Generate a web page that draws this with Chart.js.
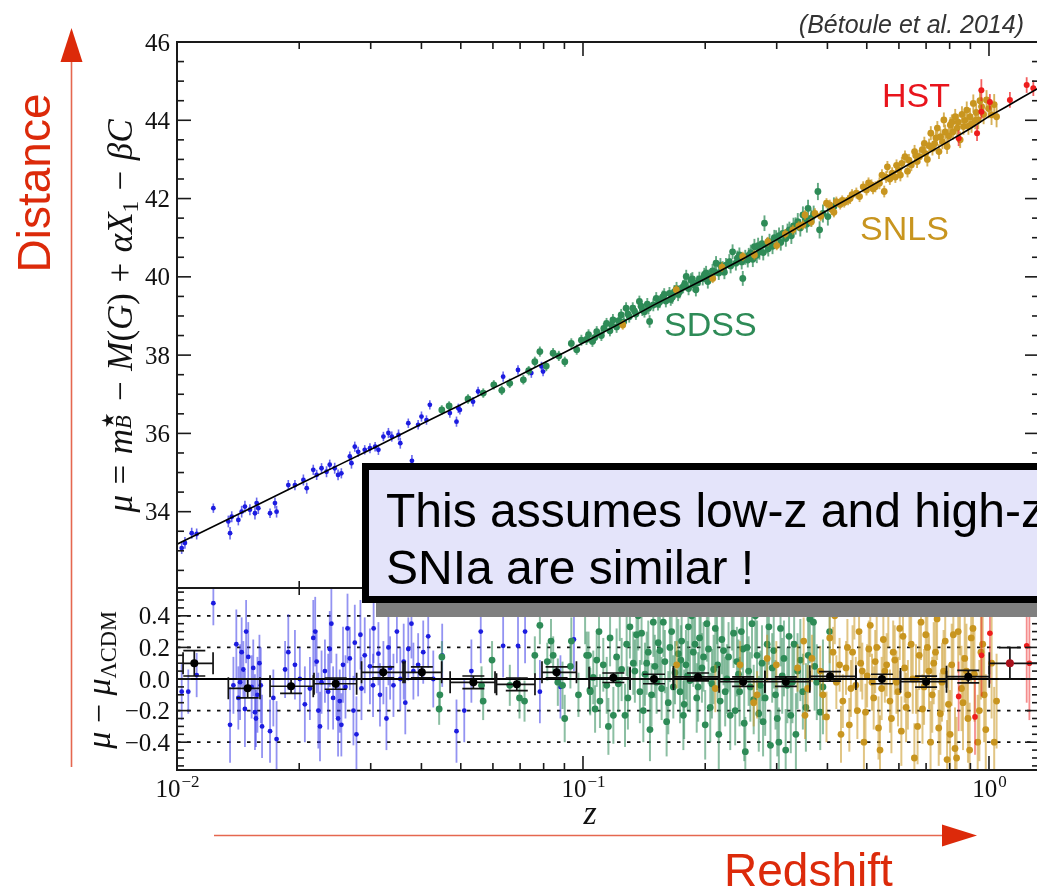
<!DOCTYPE html>
<html>
<head>
<meta charset="utf-8">
<title>Hubble diagram</title>
<script src="https://cdn.jsdelivr.net/npm/chart.js@4.4.1/dist/chart.umd.min.js"></script>
<style>
  html, body { margin: 0; padding: 0; overflow: hidden; background: #fff; }
  body { position: relative; width: 1037px; height: 893px; font-family: "Liberation Sans", Arial, sans-serif; }
  canvas { position: absolute; left: 0; }
  #hubble { top: 0; }
  #resid { top: 584px; }
  .abs { position: absolute; white-space: nowrap; line-height: 1; }
  .serif { font-family: "Liberation Serif", "Times New Roman", serif; color: #111; }
  .rot { transform: translate(-50%, -50%) rotate(-90deg); }
  .op { margin: 0 0.05em; }
  .ss { display: inline-block; position: relative; width: 0.5em; height: 1em; }
  .ss .up { position: absolute; left: 0.04em; top: 0.16em; font-size: 0.5em; font-family: "DejaVu Sans", sans-serif; }
  .ss .dn { position: absolute; left: 0; top: 0.7em; font-size: 0.64em; }
  sub { font-size: 0.66em; vertical-align: -0.28em; line-height: 0; }
  #muTitle { left: 117px; top: 316px; font-size: 35px; }
  #resTitle { left: 99px; top: 680px; font-size: 34px; }
  #zTitle { left: 590px; top: 796px; font-size: 34px; transform: translateX(-50%); }
  .red { color: #dc2a0a; font-size: 46px; }
  #distance { left: 34px; top: 183px; }
  #redshift { left: 724px; top: 847px; }
  #cite { right: 13px; top: 12px; font-size: 25px; font-style: italic; color: #333; }
  .tag { font-size: 34px; }
  #tagHST { left: 882px; top: 78px; color: #e8141c; }
  #tagSNLS { left: 860px; top: 211px; color: #c8951f; }
  #tagSDSS { left: 664px; top: 307px; color: #2e8b57; }
  #note {
    left: 362px; top: 463px; width: 720px; height: 140px; box-sizing: border-box;
    border: 7px solid #000; background: #e4e4fa; box-shadow: 14px 14px 0 #808080;
    font-size: 48px; line-height: 57px; padding: 12px 0 0 17px; color: #000;
  }
</style>
</head>
<body>
<canvas id="hubble" width="1060" height="600"></canvas>
<canvas id="resid" width="1060" height="309"></canvas>

<svg class="abs" style="left:0;top:0" width="1037" height="893">
  <line x1="71.5" y1="60" x2="71.5" y2="767" stroke="#e5674f" stroke-width="1.6"/>
  <polygon points="71.5,28 60.5,62 82.5,62" fill="#dc2a0a"/>
  <line x1="214" y1="835.5" x2="944" y2="835.5" stroke="#e5674f" stroke-width="1.6"/>
  <polygon points="977,835.5 942,824.5 942,846.5" fill="#dc2a0a"/>
</svg>

<div class="abs serif rot" id="muTitle"><i>μ</i> <span class="op">=</span> <i>m</i><span class="ss"><span class="up">★</span><span class="dn"><i>B</i></span></span> <span class="op">−</span> <i>M</i>(<i>G</i>) <span class="op">+</span> <i>αX</i><sub>1</sub> <span class="op">−</span> <i>βC</i></div>
<div class="abs serif rot" id="resTitle"><i>μ</i> − <i>μ</i><sub>ΛCDM</sub></div>
<div class="abs serif" id="zTitle"><i>z</i></div>
<div class="abs red rot" id="distance">Distance</div>
<div class="abs red" id="redshift">Redshift</div>
<div class="abs" id="cite">(Bétoule et al. 2014)</div>
<div class="abs tag" id="tagHST">HST</div>
<div class="abs tag" id="tagSNLS">SNLS</div>
<div class="abs tag" id="tagSDSS">SDSS</div>
<div class="abs" id="note">This assumes low-z and high-z<br>SNIa are similar !</div>

<script>
// axis ranges and tick labels
const zRange = [0.01, 1.328];
const muRange = [32.05, 46];
const resRange = [-0.576, 0.576];
const zDecades = [0.01, 0.1, 1];
const zExpLabels = ['−2', '−1', '0'];
const muTicks = [34, 36, 38, 40, 42, 44, 46];
const muTickLabels = ['34', '36', '38', '40', '42', '44', '46'];
const resTicks = [-0.4, -0.2, 0, 0.2, 0.4];
const resTickLabels = ['−0.4', '−0.2', '0.0', '0.2', '0.4'];
const resGrid = [-0.4, -0.2, 0.2, 0.4];

// best-fit LCDM distance modulus
const modelZ = [0.01, 0.012, 0.015, 0.02, 0.025, 0.03, 0.04, 0.05, 0.06, 0.07, 0.08, 0.1, 0.12, 0.15, 0.2, 0.25, 0.3, 0.4, 0.5, 0.6, 0.7, 0.8, 0.9, 1.0, 1.1, 1.2, 1.35];
const modelMu = [33.17, 33.57, 34.06, 34.70, 35.19, 35.59, 36.24, 36.73, 37.15, 37.49, 37.80, 38.31, 38.74, 39.29, 39.95, 40.48, 40.95, 41.70, 42.26, 42.73, 43.13, 43.48, 43.79, 44.10, 44.34, 44.57, 44.87];
const residualZero = [[0.01, 0], [1.35, 0]];

// Hubble diagram: [z, mu, sigma]
const lowzMu = [[0.01027,33.07,.15],[0.01046,33.20,.15],[0.01087,33.45,.14],[0.01118,33.43,.14],[0.01229,34.09,.12],[0.01338,33.75,.15],[0.01351,33.45,.16],[0.01364,33.87,.14],[0.01416,33.79,.14],[0.01443,34.00,.15],[0.01470,34.13,.15],[0.01512,34.05,.14],[0.01556,33.96,.16],[0.01571,34.22,.14],[0.01586,34.09,.15],[0.01695,33.96,.12],[0.01743,34.22,.14],[0.01759,34.00,.15],[0.01880,34.68,.13],[0.01952,34.68,.13],[0.02048,34.81,.14],[0.02087,34.60,.14],[0.02166,35.07,.13],[0.02208,34.94,.13],[0.02270,35.11,.13],[0.02335,35.02,.14],[0.02378,35.20,.13],[0.02446,35.11,.14],[0.02493,34.94,.14],[0.02540,34.98,.13],[0.02665,35.41,.13],[0.02690,35.24,.14],[0.02741,35.66,.13],[0.02794,35.53,.13],[0.02900,35.58,.12],[0.02987,35.62,.13],[0.03076,35.66,.12],[0.03134,35.58,.13],[0.03224,35.92,.12],[0.03317,36.01,.13],[0.03381,35.92,.13],[0.03513,35.96,.14],[0.03548,35.75,.14],[0.03713,36.26,.12],[0.0379,35.30,.15],[0.03926,36.22,.12],[0.04001,36.43,.13],[0.04116,36.34,.12],[0.04195,36.73,.12],[0.04700,36.52,.12],[0.04880,36.30,.13],[0.04931,36.64,.12],[0.04975,36.60,.12],[0.05360,36.81,.12],[0.05516,37.07,.12],[0.06358,37.45,.13],[0.06917,37.62,.12],[0.07461,37.54,.12],[0.07903,37.71,.12],[0.07974,37.58,.12]];
const sdssMu = [[0.0449,36.60,.12],[0.0468,36.70,.12],[0.0521,36.88,.12],[0.0568,37.03,.12],[0.0603,37.24,.12],[0.0631,37.10,.12],[0.0660,37.28,.12],[0.0713,37.37,.12],[0.0735,37.60,.12],[0.0761,37.83,.13],[0.0783,38.09,.13],[0.0812,37.72,.13],[0.0844,38.05,.13],[0.0872,37.98,.13],[0.0902,37.83,.13],[0.0936,38.30,.13],[0.0965,38.14,.13],[0.0991,38.38,.14],[0.1020,38.40,.14],[0.1032,38.52,.14],[0.1055,38.35,.14],[0.1070,38.45,.14],[0.1081,38.60,.14],[0.1110,38.50,.14],[0.1125,38.68,.14],[0.1143,38.81,.14],[0.1165,38.62,.14],[0.1175,38.78,.15],[0.1185,38.90,.15],[0.1210,38.72,.15],[0.1225,38.88,.15],[0.1242,39.03,.15],[0.1260,38.85,.15],[0.1277,39.20,.15],[0.1290,39.05,.15],[0.1300,38.98,.15],[0.1326,39.20,.15],[0.1340,39.12,.15],[0.1350,39.05,.15],[0.1377,39.37,.15],[0.1390,39.25,.15],[0.1400,39.15,.15],[0.1417,39.11,.15],[0.1440,39.30,.16],[0.1450,39.20,.16],[0.1459,38.86,.16],[0.1490,39.28,.16],[0.1515,39.45,.16],[0.1530,39.30,.16],[0.1545,39.36,.16],[0.1572,39.49,.16],[0.1585,39.55,.16],[0.1600,39.38,.16],[0.1633,39.58,.16],[0.1645,39.42,.16],[0.1660,39.48,.17],[0.1680,39.62,.17],[0.1700,39.70,.17],[0.1715,39.55,.17],[0.1730,39.62,.17],[0.1765,39.75,.17],[0.1780,39.82,.17],[0.1796,40.01,.17],[0.1820,39.70,.17],[0.1845,39.92,.17],[0.1860,39.95,.17],[0.1870,39.80,.17],[0.1897,39.67,.17],[0.1915,39.85,.18],[0.1935,39.95,.18],[0.1972,39.96,.18],[0.1990,40.05,.18],[0.2010,40.10,.18],[0.2030,39.88,.18],[0.2048,40.01,.18],[0.2085,40.15,.18],[0.2110,40.12,.18],[0.2127,40.35,.18],[0.2160,40.10,.18],[0.2180,40.30,.18],[0.2208,40.22,.18],[0.2230,40.12,.18],[0.2250,40.30,.18],[0.2293,40.39,.19],[0.2310,40.28,.19],[0.2336,40.64,.19],[0.2380,40.35,.19],[0.2400,40.48,.19],[0.2428,40.56,.19],[0.2460,40.38,.19],[0.2475,39.96,.19],[0.2510,40.50,.19],[0.2546,40.43,.19],[0.2560,40.55,.19],[0.2590,40.62,.2],[0.2620,40.45,.2],[0.2644,40.77,.2],[0.2680,40.55,.2],[0.2700,40.80,.2],[0.2720,40.64,.2],[0.2760,40.85,.2],[0.2780,40.62,.2],[0.2799,41.37,.2],[0.2840,40.80,.2],[0.2860,40.72,.2],[0.2880,40.90,.2],[0.2930,40.78,.2],[0.2960,41.00,.2],[0.2990,40.99,.2],[0.3040,41.05,.21],[0.3070,40.88,.21],[0.3105,41.11,.21],[0.3160,40.98,.21],[0.3190,41.15,.21],[0.3224,41.20,.21],[0.3260,41.05,.21],[0.3300,41.30,.21],[0.3340,41.30,.22],[0.3381,41.41,.22],[0.3430,41.25,.22],[0.3481,41.58,.22],[0.3530,41.45,.22],[0.3560,41.35,.22],[0.3584,41.75,.22],[0.3650,41.50,.22],[0.3700,41.60,.22],[0.3790,42.18,.22],[0.3826,41.20,.22],[0.3900,41.62,.23],[0.4010,41.54,.23],[0.4150,41.80,.23]];
const snlsMu = [[0.1253,38.77,.12],[0.1697,39.67,.12],[0.2087,39.96,.12],[0.2200,40.25,.12],[0.2475,40.52,.12],[0.2644,40.56,.12],[0.2853,40.90,.12],[0.3000,40.80,.12],[0.3150,41.10,.12],[0.3288,41.20,.12],[0.3400,41.30,.12],[0.3481,41.33,.12],[0.3522,41.58,.12],[0.3650,41.40,.12],[0.3727,41.62,.13],[0.3850,41.55,.13],[0.3979,41.88,.13],[0.4053,41.84,.13],[0.4100,41.72,.13],[0.4150,41.65,.13],[0.4208,41.92,.13],[0.4300,41.85,.13],[0.4350,41.95,.13],[0.4400,41.90,.13],[0.4496,41.96,.13],[0.4550,42.00,.14],[0.4600,42.10,.14],[0.4713,42.14,.14],[0.4800,42.05,.14],[0.4900,42.30,.14],[0.4993,42.22,.14],[0.5050,42.40,.14],[0.5134,42.35,.14],[0.5180,42.25,.14],[0.5250,42.30,.14],[0.5373,42.39,.15],[0.5450,42.60,.15],[0.5521,42.18,.15],[0.5580,42.55,.15],[0.5621,42.81,.15],[0.5700,42.50,.15],[0.5775,42.65,.15],[0.5880,42.55,.15],[0.5920,42.85,.15],[0.5987,42.73,.16],[0.6050,42.60,.16],[0.6100,42.90,.16],[0.6210,43.07,.16],[0.6300,42.70,.16],[0.6350,42.98,.16],[0.6438,42.86,.16],[0.6557,43.20,.17],[0.6600,43.10,.17],[0.6650,42.95,.17],[0.6741,43.07,.17],[0.6850,43.25,.17],[0.6931,43.41,.17],[0.6980,43.15,.17],[0.7050,43.00,.18],[0.7120,43.35,.18],[0.7190,43.67,.18],[0.7257,43.28,.18],[0.7350,43.40,.18],[0.7400,43.55,.18],[0.7462,43.80,.18],[0.7530,43.20,.19],[0.7601,43.58,.19],[0.7680,43.45,.19],[0.7742,44.01,.19],[0.7800,43.70,.19],[0.7885,43.33,.19],[0.7960,43.60,.2],[0.8032,43.88,.2],[0.8100,43.95,.2],[0.8150,43.70,.2],[0.8257,44.09,.2],[0.8350,43.80,.2],[0.8400,43.95,.2],[0.8492,43.50,.21],[0.8580,44.15,.21],[0.8652,43.84,.21],[0.8720,44.00,.21],[0.8815,44.26,.22],[0.8900,43.85,.22],[0.8982,44.09,.22],[0.9060,43.90,.22],[0.9150,44.43,.23],[0.9250,44.00,.23],[0.9300,44.20,.23],[0.9410,44.01,.24],[0.9500,44.50,.24],[0.9586,44.35,.24],[0.9700,44.15,.25],[0.9862,44.52,.25],[0.9980,44.30,.25],[1.0146,44.14,.26],[1.0300,44.40,.27],[1.0440,44.09,.27]];
const hstMu = [[0.8420,43.54,.2],[0.9345,43.67,.2],[0.9580,44.22,.18],[0.9577,44.77,.28],[1.0050,44.47,.2],[1.1260,44.52,.2],[1.2384,44.90,.2],[1.2860,44.82,.2]];

// Hubble residuals: [z, mu - mu_LCDM, sigma]
const lowzRes = [[0.01027,-0.08,.18],[0.01066,-0.08,.14],[0.01118,0.025,.14],[0.01229,0.48,.14],[0.01351,-0.29,.24],[0.01377,-0.04,.18],[0.01400,0.22,.22],[0.01416,-0.12,.2],[0.01430,-0.02,.24],[0.01443,0.17,.22],[0.01457,0.06,.18],[0.01470,-0.19,.24],[0.01480,0.30,.2],[0.01498,0.14,.22],[0.01527,-0.05,.2],[0.01541,0.07,.18],[0.01556,-0.21,.24],[0.01565,-0.25,.18],[0.01578,-0.10,.24],[0.01596,0.10,.18],[0.01608,-0.04,.24],[0.01620,-0.30,.2],[0.01695,-0.33,.2],[0.01727,-0.12,.18],[0.01759,-0.38,.24],[0.01846,0.06,.18],[0.01880,0.17,.24],[0.01952,0.09,.22],[0.02007,0.00,.2],[0.02065,-0.16,.24],[0.02125,-0.06,.2],[0.02166,0.26,.24],[0.02190,0.30,.22],[0.02208,0.11,.2],[0.02229,-0.20,.24],[0.02250,-0.30,.22],[0.02270,-0.02,.2],[0.02314,0.05,.2],[0.02357,-0.08,.24],[0.02378,0.19,.24],[0.02400,0.35,.25],[0.02424,-0.12,.2],[0.02470,-0.04,.2],[0.02493,-0.25,.24],[0.02517,-0.14,.2],[0.02540,-0.29,.2],[0.02564,0.09,.24],[0.02600,-0.05,.2],[0.02630,0.32,.22],[0.02665,0.13,.2],[0.02720,-0.20,.22],[0.02741,0.23,.24],[0.02767,-0.35,.24],[0.02830,0.28,.22],[0.02847,-0.06,.2],[0.02900,0.15,.24],[0.02987,0.08,.24],[0.03040,-0.04,.2],[0.03050,0.32,.22],[0.03134,0.16,.2],[0.03162,-0.10,.2],[0.03224,0.04,.2],[0.03280,-0.25,.2],[0.03317,0.20,.24],[0.03349,0.07,.2],[0.03413,-0.04,.2],[0.03480,0.30,.2],[0.03548,0.00,.2],[0.03617,0.11,.24],[0.03650,-0.15,.2],[0.03713,0.19,.2],[0.03780,0.35,.22],[0.03822,0.05,.18],[0.03926,0.09,.2],[0.04041,0.17,.2],[0.04157,0.27,.2],[0.04278,0.00,.18],[0.04500,0.15,.2],[0.04880,-0.33,.2],[0.05100,-0.20,.2],[0.05310,0.05,.2],[0.05600,0.30,.2],[0.06358,0.21,.2],[0.06917,0.21,.2],[0.07200,0.30,.2],[0.07831,-0.08,.2],[0.08800,-0.05,.2],[0.09500,0.25,.2]];
const sdssRes = [[0.04441,-0.10,.1],[0.04423,-0.19,.1],[0.04492,0.14,.1],[0.05624,-0.04,.12],[0.05677,-0.14,.12],[0.05970,0.12,.12],[0.06603,-0.04,.13],[0.06976,-0.12,.13],[0.07178,-0.14,.13],[0.07610,0.15,.12],[0.07831,0.34,.12],[0.08167,0.11,.12],[0.08341,0.24,.14],[0.08444,0.15,.12],[0.08670,-0.02,.15],[0.08904,-0.04,.15],[0.09015,-0.25,.15],[0.09310,0.08,.14],[0.09361,0.24,.15],[0.09746,-0.10,.14],[0.1012,0.42,.2],[0.1021,0.15,.15],[0.1032,0.15,.15],[0.1040,-0.07,.15],[0.1042,-0.08,.15],[0.1060,0.01,.17],[0.1071,-0.19,.15],[0.1081,0.12,.17],[0.1095,0.30,.18],[0.1101,-0.14,.17],[0.1122,0.09,.17],[0.1144,-0.04,.18],[0.1155,-0.30,.18],[0.1166,0.26,.18],[0.1188,-0.23,.18],[0.1210,0.14,.18],[0.1222,-0.03,.18],[0.1232,0.44,.2],[0.1245,0.06,.2],[0.1269,-0.23,.2],[0.1281,0.22,.2],[0.1290,-0.12,.2],[0.1305,0.33,.2],[0.1330,0.10,.2],[0.1342,0.05,.2],[0.1355,0.28,.2],[0.1368,0.40,.22],[0.1381,-0.08,.2],[0.1394,0.29,.2],[0.1408,-0.20,.2],[0.1421,0.03,.2],[0.1435,0.10,.2],[0.1448,0.17,.2],[0.1462,-0.32,.2],[0.1475,-0.10,.2],[0.1490,0.36,.22],[0.1503,0.08,.2],[0.1518,-0.02,.2],[0.1532,0.23,.2],[0.1547,0.18,.22],[0.1562,-0.06,.2],[0.1577,0.36,.22],[0.1591,0.11,.2],[0.1607,-0.27,.22],[0.1622,-0.15,.2],[0.1637,0.20,.22],[0.1653,0.30,.22],[0.1669,-0.05,.2],[0.1685,0.04,.2],[0.1701,0.45,.24],[0.1717,0.16,.22],[0.1734,-0.08,.2],[0.1742,0.12,.22],[0.1750,0.24,.22],[0.1767,-0.23,.22],[0.1775,-0.16,.22],[0.1793,0.09,.22],[0.1810,0.02,.22],[0.1818,0.33,.22],[0.1834,-0.01,.2],[0.1852,0.40,.24],[0.1870,0.17,.22],[0.1888,0.22,.22],[0.1906,-0.12,.22],[0.1921,-0.05,.22],[0.1936,0.26,.22],[0.1950,0.50,.24],[0.1963,0.07,.22],[0.1981,0.14,.22],[0.2000,-0.29,.22],[0.2019,0.35,.24],[0.2038,0.19,.22],[0.2058,-0.18,.22],[0.2078,-0.03,.22],[0.2098,0.06,.22],[0.2118,0.32,.22],[0.2138,0.46,.24],[0.2146,0.09,.22],[0.2160,-0.35,.22],[0.2177,-0.14,.22],[0.2198,0.25,.22],[0.2219,0.18,.22],[0.2240,-0.08,.22],[0.2262,0.00,.22],[0.2283,0.14,.22],[0.2305,-0.23,.22],[0.2327,0.42,.24],[0.2349,0.29,.22],[0.2371,-0.20,.22],[0.2394,0.11,.22],[0.2416,0.03,.22],[0.2431,-0.08,.22],[0.2455,0.30,.24],[0.2478,0.19,.22],[0.2495,-0.28,.24],[0.2511,-0.46,.22],[0.2535,0.20,.22],[0.2559,0.05,.22],[0.2583,-0.05,.22],[0.2608,0.35,.22],[0.2633,-0.13,.22],[0.2658,0.40,.24],[0.2684,0.15,.22],[0.2710,-0.22,.24],[0.2735,-0.04,.22],[0.2760,0.10,.24],[0.2777,-0.27,.22],[0.2810,-0.12,.24],[0.2842,0.22,.22],[0.2870,0.33,.24],[0.2896,-0.42,.22],[0.2924,0.07,.22],[0.2950,0.18,.24],[0.2980,-0.10,.22],[0.3010,-0.25,.24],[0.3037,-0.40,.22],[0.3066,0.32,.24],[0.3095,0.02,.24],[0.3126,0.13,.24],[0.3157,-0.45,.26],[0.3187,-0.04,.24],[0.3218,0.27,.26],[0.3249,-0.23,.24],[0.3280,-0.02,.26],[0.3312,0.22,.24],[0.3345,-0.35,.26],[0.3377,0.05,.24],[0.3430,0.12,.26],[0.3480,-0.08,.24],[0.3540,-0.18,.28],[0.3586,0.15,.24],[0.3620,0.38,.28],[0.3695,0.36,.24],[0.3720,0.08,.28],[0.3766,-0.02,.24],[0.3840,-0.21,.24],[0.3900,-0.05,.3],[0.4050,0.30,.3]];
const snlsRes = [[0.1701,0.09,.15],[0.2118,-0.06,.15],[0.2437,0.09,.15],[0.2633,-0.15,.15],[0.2684,-0.10,.15],[0.2842,0.13,.15],[0.2994,0.09,.15],[0.3377,0.07,.15],[0.3496,0.24,.15],[0.3522,-0.23,.15],[0.3575,-0.06,.15],[0.3663,0.13,.15],[0.3840,0.05,.16],[0.3902,-0.10,.16],[0.3979,-0.24,.16],[0.4053,0.26,.16],[0.4129,0.17,.16],[0.4170,0.40,.18],[0.4208,-0.02,.17],[0.4285,0.09,.17],[0.4320,-0.35,.18],[0.4365,-0.14,.17],[0.4445,0.07,.17],[0.4480,0.20,.18],[0.4529,-0.29,.17],[0.4570,-0.06,.18],[0.4613,0.17,.17],[0.4660,0.45,.2],[0.4698,-0.04,.18],[0.4740,-0.20,.18],[0.4786,0.30,.18],[0.4830,0.10,.18],[0.4875,0.05,.18],[0.4920,-0.40,.2],[0.4964,-0.21,.18],[0.5010,0.02,.2],[0.5058,0.19,.18],[0.5100,0.34,.2],[0.5150,-0.02,.18],[0.5200,-0.12,.2],[0.5245,0.11,.2],[0.5290,0.20,.2],[0.5344,-0.31,.2],[0.5390,-0.45,.22],[0.5441,-0.06,.2],[0.5493,0.25,.2],[0.5540,0.05,.2],[0.5597,0.09,.2],[0.5650,0.42,.22],[0.5702,-0.14,.2],[0.5750,-0.25,.22],[0.5808,0.17,.2],[0.5860,0.12,.22],[0.5916,-0.02,.2],[0.5970,-0.08,.22],[0.6027,0.32,.2],[0.6083,-0.33,.22],[0.6140,0.27,.22],[0.6197,0.07,.22],[0.6250,-0.18,.22],[0.6313,-0.10,.22],[0.6370,0.48,.24],[0.6431,0.22,.22],[0.6490,0.00,.22],[0.6550,-0.50,.22],[0.6610,0.00,.22],[0.6670,-0.30,.24],[0.6733,0.15,.22],[0.6800,0.36,.24],[0.6858,-0.19,.22],[0.6920,-0.05,.24],[0.6986,0.28,.24],[0.7050,0.20,.24],[0.7116,0.05,.24],[0.7180,-0.40,.26],[0.7248,-0.10,.24],[0.7310,0.10,.26],[0.7383,0.17,.24],[0.7450,0.38,.26],[0.7520,-0.31,.24],[0.7590,-0.22,.26],[0.7660,-0.02,.25],[0.7730,0.05,.26],[0.7802,0.24,.25],[0.7885,-0.51,.25],[0.7947,-0.16,.25],[0.8020,-0.35,.28],[0.8095,0.09,.26],[0.8170,0.28,.28],[0.8246,-0.44,.26],[0.8321,-0.50,.26],[0.8399,0.30,.26],[0.8480,0.45,.3],[0.8555,-0.06,.27],[0.8630,-0.15,.3],[0.8714,0.13,.27],[0.8800,0.05,.3],[0.8876,-0.25,.28],[0.8960,-0.45,.3],[0.9041,0.26,.28],[0.9130,0.32,.32],[0.9209,0.03,.3],[0.9380,-0.40,.3],[0.9470,-0.20,.32],[0.9554,0.17,.3],[0.9650,0.22,.32],[0.9731,-0.10,.3],[0.9820,-0.32,.35],[1.0150,0.10,.35],[1.0300,-0.40,.35],[1.0440,-0.14,.3]];
const hstRes = [[0.8420,-0.11,.22],[0.9238,-0.24,.24],[0.9586,0.15,.26],[1.0052,0.29,.32],[1.2385,0.21,.36],[1.2575,0.10,.36]];

// binned residuals
const binZ = [0.01103, 0.01493, 0.0191, 0.0246, 0.0322, 0.0401, 0.0537, 0.0687, 0.0861, 0.1188, 0.1496, 0.192, 0.248, 0.316, 0.406, 0.545, 0.700, 0.889, 1.126];
const binRes = [0.099, -0.059, -0.046, -0.030, 0.042, 0.042, -0.021, -0.034, 0.042, 0.008, 0.000, 0.013, -0.017, -0.017, 0.017, 0.000, -0.017, 0.015, 0.099];
const binErr = [0.08, 0.06, 0.045, 0.035, 0.035, 0.035, 0.04, 0.04, 0.035, 0.03, 0.03, 0.025, 0.03, 0.03, 0.03, 0.03, 0.035, 0.04, 0.1];
const binLo = [0.01035, 0.01338, 0.01695, 0.02175, 0.02848, 0.03643, 0.04707, 0.06125, 0.07925, 0.1035, 0.1306, 0.1670, 0.2164, 0.2805, 0.3620, 0.4702, 0.6053, 0.7859, 1.0017];
const binHi = [0.01227, 0.01601, 0.02166, 0.02770, 0.03605, 0.04486, 0.06072, 0.07616, 0.09637, 0.1306, 0.1670, 0.2164, 0.2805, 0.3620, 0.4702, 0.6053, 0.7859, 1.0017, 1.35];

const zMinorTicks = [];
zDecades.forEach((d) => { for (let k = 2; k <= 9; k++) zMinorTicks.push(d * k); });
const steps = (from, to, step, skip) => {
  const out = [];
  for (let v = from; v <= to + 1e-9; v += step) {
    const r = Math.round(v * 1000) / 1000;
    if (!skip.some((s) => Math.abs(s - r) < 1e-6)) out.push(r);
  }
  return out;
};

const toPts = (rows) => rows.map(([x, y, e]) => ({ x, y, e }));

// vertical error bars (and binned x-extents) under each dataset's markers
const errorBars = {
  id: 'errorBars',
  beforeDatasetDraw(chart, args) {
    const ds = chart.data.datasets[args.index];
    if (!ds.errColor) return;
    const { ctx, chartArea: a, scales: { x, y } } = chart;
    ctx.save();
    ctx.beginPath();
    ctx.rect(a.left, a.top, a.right - a.left, a.bottom - a.top);
    ctx.clip();
    ctx.strokeStyle = ds.errColor;
    ctx.lineWidth = ds.errWidth;
    const cap = ds.capSize || 0;
    for (const p of ds.data) {
      const px = x.getPixelForValue(p.x);
      const py = y.getPixelForValue(p.y);
      const y1 = y.getPixelForValue(p.y - p.e);
      const y2 = y.getPixelForValue(p.y + p.e);
      ctx.beginPath();
      ctx.moveTo(px, y1);
      ctx.lineTo(px, y2);
      if (cap) {
        ctx.moveTo(px - cap, y1); ctx.lineTo(px + cap, y1);
        ctx.moveTo(px - cap, y2); ctx.lineTo(px + cap, y2);
      }
      if (p.lo) {
        const x1 = x.getPixelForValue(p.lo);
        const x2 = x.getPixelForValue(p.hi);
        ctx.moveTo(x1, py); ctx.lineTo(x2, py);
        ctx.moveTo(x1, py - cap); ctx.lineTo(x1, py + cap);
        ctx.moveTo(x2, py - cap); ctx.lineTo(x2, py + cap);
      }
      ctx.stroke();
    }
    ctx.restore();
  }
};

// box frame with inward ticks on all four sides
function makeFrame(cfg) {
  return {
    id: 'frame',
    beforeDatasetsDraw(chart) {
      if (!cfg.grid) return;
      const { ctx, chartArea: a, scales: { y } } = chart;
      ctx.save();
      ctx.strokeStyle = '#111';
      ctx.lineWidth = 1.8;
      ctx.setLineDash([3.5, 6.5]);
      cfg.grid.forEach((v) => {
        const py = y.getPixelForValue(v);
        ctx.beginPath(); ctx.moveTo(a.left, py); ctx.lineTo(a.right, py); ctx.stroke();
      });
      ctx.restore();
    },
    afterDatasetsDraw(chart) {
      const { ctx, chartArea: a, scales: { x, y } } = chart;
      ctx.save();
      ctx.strokeStyle = '#1a1a1a';
      ctx.lineWidth = 2;
      ctx.strokeRect(a.left, a.top, a.right - a.left, a.bottom - a.top);
      ctx.lineWidth = 1.6;
      const seg = (x1, y1, x2, y2) => { ctx.beginPath(); ctx.moveTo(x1, y1); ctx.lineTo(x2, y2); ctx.stroke(); };
      const xTicks = (vals, len) => vals.forEach((v) => {
        if (v < zRange[0] || v > zRange[1]) return;
        const px = x.getPixelForValue(v);
        seg(px, a.top, px, a.top + len);
        seg(px, a.bottom, px, a.bottom - len);
      });
      const yTicks = (vals, len) => vals.forEach((v) => {
        const py = y.getPixelForValue(v);
        seg(a.left, py, a.left + len, py);
        seg(a.right, py, a.right - len, py);
      });
      xTicks(zDecades, 14);
      xTicks(zMinorTicks, 7);
      yTicks(cfg.yMajor, 14);
      yTicks(cfg.yMinor, 7);

      ctx.fillStyle = '#111';
      ctx.font = '25px "Liberation Serif", serif';
      ctx.textAlign = 'right';
      ctx.textBaseline = 'alphabetic';
      cfg.yMajor.forEach((v, i) => ctx.fillText(cfg.yLabels[i], a.left - 7, y.getPixelForValue(v) + 8.5));

      if (cfg.xLabels) {
        ctx.textAlign = 'left';
        const base = a.bottom + 27;
        zDecades.forEach((d, i) => {
          ctx.font = '25px "Liberation Serif", serif';
          const w1 = ctx.measureText('10').width;
          ctx.font = '17px "Liberation Serif", serif';
          const w2 = ctx.measureText(zExpLabels[i]).width;
          const left = x.getPixelForValue(d) - (w1 + w2) / 2;
          ctx.font = '25px "Liberation Serif", serif';
          ctx.fillText('10', left, base);
          ctx.font = '17px "Liberation Serif", serif';
          ctx.fillText(zExpLabels[i], left + w1 + 1, base - 10);
        });
      }
      ctx.restore();
    }
  };
}

const scatterSet = (rows, color, errColor, radius, order, errWidth) => ({
  data: toPts(rows),
  backgroundColor: color,
  borderColor: color,
  pointBackgroundColor: color,
  pointBorderWidth: 0,
  pointRadius: radius,
  errColor,
  errWidth,
  order
});

const baseOptions = (yMin, yMax, padding) => ({
  responsive: false,
  devicePixelRatio: 1,
  animation: false,
  events: [],
  layout: { padding },
  plugins: { legend: { display: false }, tooltip: { enabled: false } },
  scales: {
    x: { type: 'logarithmic', min: zRange[0], max: zRange[1], display: false },
    y: { type: 'linear', min: yMin, max: yMax, display: false }
  }
});

new Chart(document.getElementById('hubble'), {
  type: 'scatter',
  data: {
    datasets: [
      {
        data: modelZ.map((z, i) => ({ x: z, y: modelMu[i] })),
        showLine: true, pointRadius: 0, borderColor: '#000', borderWidth: 1.6, order: 0
      },
      scatterSet(hstMu, '#ee1c1c', 'rgba(238,28,28,0.7)', 3, 1, 1.8),
      scatterSet(snlsMu, '#c8951f', 'rgba(200,149,31,0.75)', 3.4, 2, 1.9),
      scatterSet(sdssMu, '#2e8b57', 'rgba(46,139,87,0.75)', 3.4, 3, 1.9),
      scatterSet(lowzMu, '#1c1ce0', 'rgba(40,40,230,0.7)', 2.4, 4, 1.6)
    ]
  },
  options: baseOptions(muRange[0], muRange[1], { left: 177, top: 42, right: 21, bottom: 12 }),
  plugins: [errorBars, makeFrame({
    yMajor: muTicks, yLabels: muTickLabels,
    yMinor: steps(32.5, 45.5, 0.5, muTicks), xLabels: false
  })]
});

new Chart(document.getElementById('resid'), {
  type: 'scatter',
  data: {
    datasets: [
      {
        data: binZ.map((z, i) => ({ x: z, y: binRes[i], e: binErr[i], lo: binLo[i], hi: binHi[i] })),
        pointRadius: 4,
        pointBorderWidth: 0,
        pointBackgroundColor: binZ.map((z) => (z > 1 ? '#a8101c' : '#000')),
        errColor: '#111', errWidth: 1.7, capSize: 11, order: 0
      },
      {
        data: residualZero.map(([x, y]) => ({ x, y })),
        showLine: true, pointRadius: 0, borderColor: '#000', borderWidth: 2, order: 1
      },
      scatterSet(hstRes, '#ee1c1c', 'rgba(238,28,28,0.5)', 2.8, 2, 1.8),
      scatterSet(snlsRes, '#c8951f', 'rgba(200,149,31,0.55)', 3.4, 3, 2),
      scatterSet(sdssRes, '#2e8b57', 'rgba(46,139,87,0.55)', 3.4, 4, 2),
      scatterSet(lowzRes, '#1c1ce0', 'rgba(40,40,230,0.5)', 2.4, 5, 1.8)
    ]
  },
  options: baseOptions(resRange[0], resRange[1], { left: 177, top: 4, right: 21, bottom: 123 }),
  plugins: [errorBars, makeFrame({
    yMajor: resTicks, yLabels: resTickLabels,
    yMinor: steps(-0.55, 0.55, 0.05, resTicks), grid: resGrid, xLabels: true
  })]
});
</script>
</body>
</html>
